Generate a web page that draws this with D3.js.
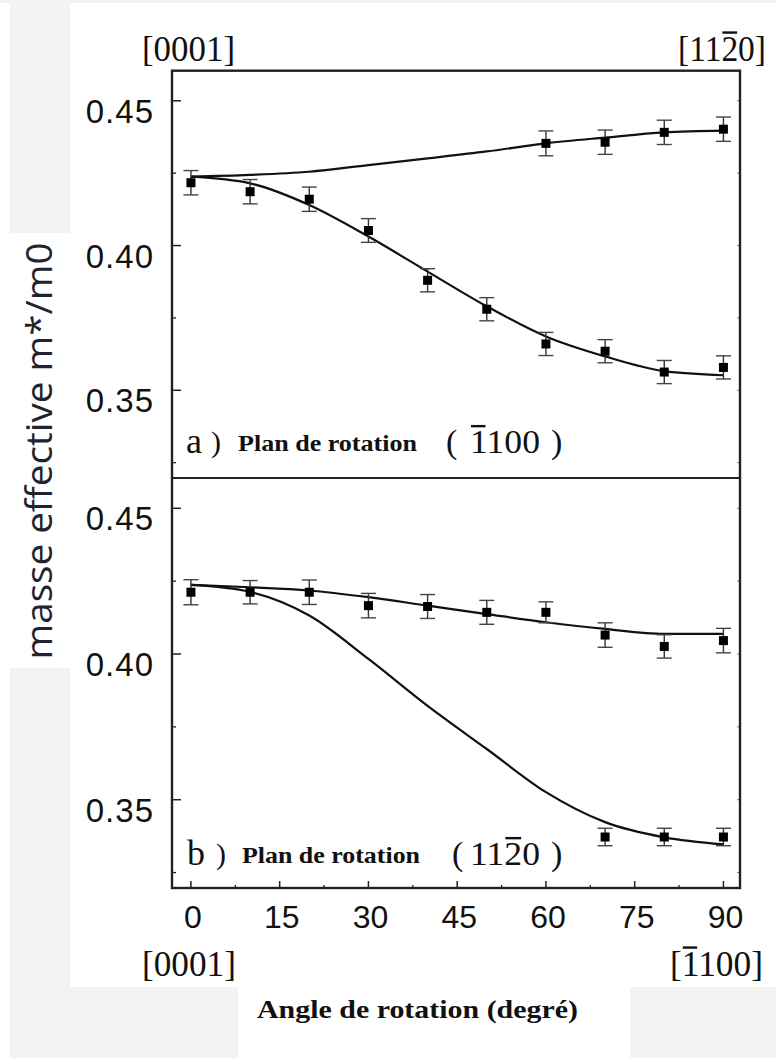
<!DOCTYPE html>
<html><head><meta charset="utf-8">
<script src="https://cdn.jsdelivr.net/npm/d3@7"></script>
<style>html,body{margin:0;padding:0;background:#fff;} svg{display:block;}</style>
</head><body>
<svg id="chart" width="776" height="1058"></svg>
<script>
// ---------- data ----------
const angles = [0, 10, 20, 30, 40, 50, 60, 70, 80, 90];
// panel a : rotation plane (-1100)
const aLowPts   = [0.4217, 0.4186, 0.4160, 0.4052, 0.3880, 0.3780, 0.3660, 0.3635, 0.3563, 0.3579];
const aLowErr   = [0.0042, 0.0042, 0.0042, 0.0041, 0.0040, 0.0040, 0.0040, 0.0040, 0.0040, 0.0040];
const aUpAngles = [60, 70, 80, 90];
const aUpPts    = [0.4353, 0.4357, 0.4391, 0.4402];
const aUpErr    = [0.0043, 0.0042, 0.0042, 0.0042];
const aUpCurve  = [0.4238, 0.4244, 0.4255, 0.4278, 0.4301, 0.4325, 0.4353, 0.4373, 0.4391, 0.4397];
const aLowCurve = [0.4238, 0.4215, 0.4140, 0.4031, 0.3910, 0.3790, 0.3686, 0.3617, 0.3566, 0.3552];
// panel b : rotation plane (11-20)
const bUpPts    = [0.4212, 0.4212, 0.4212, 0.4166, 0.4163, 0.4143, 0.4143, 0.4065, 0.4026, 0.4046];
const bUpErr    = [0.0043, 0.0040, 0.0042, 0.0042, 0.0041, 0.0041, 0.0036, 0.0042, 0.0040, 0.0042];
const bLowAngles = [70, 80, 90];
const bLowPts   = [0.3372, 0.3372, 0.3372];
const bLowErr   = [0.0030, 0.0030, 0.0030];
const bUpCurve  = [0.4237, 0.4229, 0.4218, 0.4195, 0.4166, 0.4137, 0.4109, 0.4086, 0.4069, 0.4069];
const bLowCurve = [0.4237, 0.4213, 0.4132, 0.3983, 0.3822, 0.3674, 0.3526, 0.3423, 0.3371, 0.3347];
// ticks
const xTicks = [0, 15, 30, 45, 60, 75, 90];
const xMinor = [7.5, 22.5, 37.5, 52.5, 67.5, 82.5];
const yTicks = [0.35, 0.40, 0.45];
const yMinor = [0.325, 0.375, 0.425];

// ---------- layout ----------
const svg = d3.select("#chart");
const L = 172, R = 740, TOP = 70.7, MID = 478, BOT = 888;
const x = d3.scaleLinear().domain([-3.2, 92.8]).range([L, R]);
const yA = d3.scaleLinear().domain([0.3197, 0.4604]).range([MID, TOP]);
const yB = d3.scaleLinear().domain([0.3197, 0.4604]).range([BOT, MID]);

// background patches
const gray = "#f3f3f3";
svg.append("rect").attr("x",0).attr("y",0).attr("width",776).attr("height",3).attr("fill",gray);
svg.append("rect").attr("x",10).attr("y",3).attr("width",60).attr("height",230).attr("fill",gray);
svg.append("rect").attr("x",10).attr("y",668).attr("width",60).attr("height",390).attr("fill",gray);
svg.append("rect").attr("x",10).attr("y",987).attr("width",228).attr("height",71).attr("fill",gray);
svg.append("rect").attr("x",630).attr("y",987).attr("width",146).attr("height",71).attr("fill",gray);

function panel(y, upC, lowC) {
  // ticks on left (inward)
  yTicks.forEach(v => svg.append("line").attr("x1",L).attr("x2",L+9).attr("y1",y(v)).attr("y2",y(v)).attr("stroke","#222").attr("stroke-width",1.5));
  yMinor.forEach(v => svg.append("line").attr("x1",L).attr("x2",L+4).attr("y1",y(v)).attr("y2",y(v)).attr("stroke","#222").attr("stroke-width",1.3));
  yMinor.concat(yTicks).forEach(v => svg.append("line").attr("x1",R).attr("x2",R-3).attr("y1",y(v)).attr("y2",y(v)).attr("stroke","#777").attr("stroke-width",1));
  // tick labels
  yTicks.forEach(v => svg.append("text").attr("x",154).attr("y",y(v)+22).attr("text-anchor","end")
    .attr("font-family","'Liberation Sans', Arial, sans-serif").attr("font-size",33).attr("letter-spacing",1)
    .attr("fill","#111").text(v.toFixed(2)));
  const line = d3.line().x((d,i)=>x(angles[i])).y(d=>y(d)).curve(d3.curveMonotoneX);
  [upC, lowC].forEach(c => svg.append("path").attr("d", line(c)).attr("fill","none").attr("stroke","#111").attr("stroke-width",2.2));
}
function points(y, angs, vals, errs) {
  const g = svg.append("g");
  angs.forEach((a,i) => {
    const cx = x(a), top = y(vals[i]+errs[i]), bot = y(vals[i]-errs[i]);
    g.append("line").attr("x1",cx).attr("x2",cx).attr("y1",top).attr("y2",bot).attr("stroke","#333").attr("stroke-width",1.4);
    [top,bot].forEach(yy => g.append("line").attr("x1",cx-7.5).attr("x2",cx+7.5).attr("y1",yy).attr("y2",yy).attr("stroke","#444").attr("stroke-width",1.4));
    g.append("rect").attr("x",cx-4.5).attr("y",y(vals[i])-4.5).attr("width",9).attr("height",9).attr("fill","#000");
  });
}
panel(yA, aUpCurve, aLowCurve);
panel(yB, bUpCurve, bLowCurve);
points(yA, angles, aLowPts, aLowErr);
points(yA, aUpAngles, aUpPts, aUpErr);
points(yB, angles, bUpPts, bUpErr);
points(yB, bLowAngles, bLowPts, bLowErr);

// bottom ticks
xTicks.forEach(v => svg.append("line").attr("x1",x(v)).attr("x2",x(v)).attr("y1",BOT).attr("y2",BOT-7).attr("stroke","#222").attr("stroke-width",1.5));
xMinor.forEach(v => svg.append("line").attr("x1",x(v)).attr("x2",x(v)).attr("y1",BOT).attr("y2",BOT-3).attr("stroke","#222").attr("stroke-width",1.3));
xTicks.forEach(v => svg.append("text").attr("x",x(v)+2).attr("y",928).attr("text-anchor","middle")
  .attr("font-family","'Liberation Sans', Arial, sans-serif").attr("font-size",32).attr("fill","#111").text(v));

// frame
svg.append("rect").attr("x",L).attr("y",TOP).attr("width",R-L).attr("height",BOT-TOP).attr("fill","none").attr("stroke","#222").attr("stroke-width",2.4);
svg.append("line").attr("x1",L).attr("x2",R).attr("y1",MID).attr("y2",MID).attr("stroke","#222").attr("stroke-width",2.2);

// text helpers
const serif = "'Liberation Serif', 'Times New Roman', serif";
function txt(xp, yp, s, size, opts={}) {
  const t = svg.append("text").attr("x",xp).attr("y",yp).attr("font-family",opts.family||serif)
    .attr("font-size",size).attr("fill",opts.fill||"#111").attr("text-anchor",opts.anchor||"start")
    .attr("font-weight",opts.weight||"normal").text(s);
  if (opts.len) t.attr("textLength",opts.len).attr("lengthAdjust","spacingAndGlyphs");
  if (opts.bar !== undefined) {
    const n = t.node();
    const s0 = n.getStartPositionOfChar(opts.bar), e0 = n.getEndPositionOfChar(opts.bar);
    svg.append("line").attr("x1",s0.x+1).attr("x2",e0.x-1).attr("y1",yp-size*0.79).attr("y2",yp-size*0.79)
      .attr("stroke","#111").attr("stroke-width",2.4);
  }
  return t;
}
// crystal directions
txt(142, 61, "[0001]", 36, {len:93});
txt(766, 61, "[1120]", 36, {anchor:"end", len:88, bar:3});
txt(142, 976, "[0001]", 36, {len:94});
txt(763, 976, "[1100]", 36, {anchor:"end", len:93, bar:1});

// panel labels
txt(186, 453, "a", 36);
txt(211, 452, ")", 30);
txt(238, 451, "Plan de rotation", 24, {weight:"bold", len:179});
txt(446, 453, "(", 34);
txt(470, 453, "1100", 34, {len:70, bar:0});
txt(551, 453, ")", 34);

txt(187, 865, "b", 36);
txt(216, 864, ")", 30);
txt(242, 863, "Plan de rotation", 24, {weight:"bold", len:178});
txt(452, 865, "(", 34);
txt(470, 865, "1120", 34, {len:70, bar:2});
txt(551, 865, ")", 34);

// axis titles
txt(257, 1018, "Angle de rotation (degré)", 26, {weight:"bold", len:321});
svg.append("text").attr("transform","translate(52,451) rotate(-90)").attr("text-anchor","middle")
  .attr("font-family","'Open Sans', 'Noto Sans', sans-serif").attr("font-size",36).attr("fill","#23232f")
  .attr("textLength",417).attr("lengthAdjust","spacingAndGlyphs").text("masse effective m*/m0");
</script>
</body></html>
